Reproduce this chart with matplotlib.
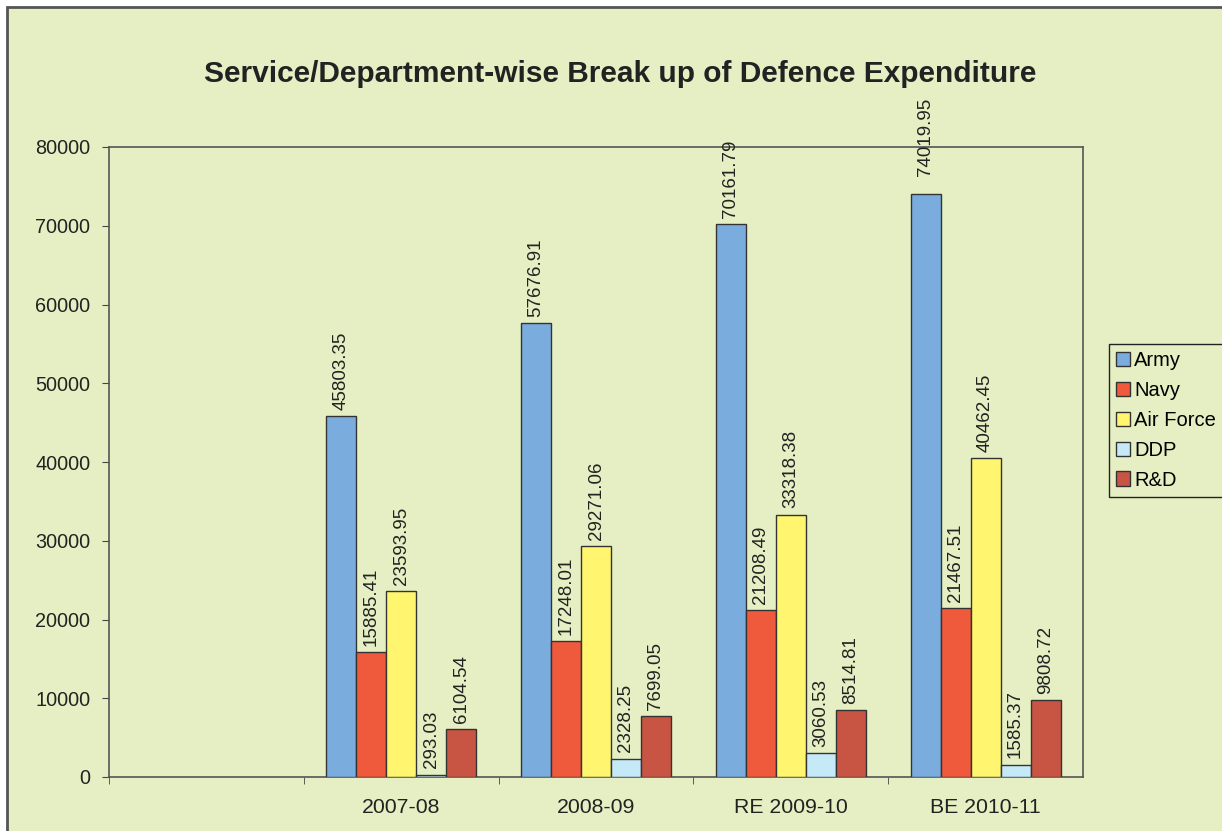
import matplotlib.pyplot as plt
import matplotlib.patches as patches
import numpy as np

plt.rcParams['font.family'] = ['Liberation Sans', 'DejaVu Sans']

categories = ['', '2007-08', '2008-09', 'RE 2009-10', 'BE 2010-11']
series = ['Army', 'Navy', 'Air Force', 'DDP', 'R&D']
army = [np.nan, 45803.35, 57676.91, 70161.79, 74019.95]
navy = [np.nan, 15885.41, 17248.01, 21208.49, 21467.51]
air_force = [np.nan, 23593.95, 29271.06, 33318.38, 40462.45]
ddp = [np.nan, 293.03, 2328.25, 3060.53, 1585.37]
rnd = [np.nan, 6104.54, 7699.05, 8514.81, 9808.72]
colors = ['#7AADDE', '#F05A3C', '#FFF56E', '#C6E9F8', '#C85543']

bg = '#E5EFC3'
fig = plt.figure(figsize=(12.22, 8.31), dpi=100, facecolor='white')
frame = patches.Rectangle((7/1222, -0.05), 1.1, 1 - 7/831 + 0.05, transform=fig.transFigure,
                          facecolor=bg, edgecolor='#555555', linewidth=2, zorder=-10)
fig.patches.append(frame)

ax = fig.add_axes([109/1222, 1 - 777/831, (1083 - 109)/1222, (777 - 147)/831])
ax.set_facecolor(bg)

x = np.arange(len(categories))
w = 30/195
for i, (name, vals) in enumerate(zip(series, [army, navy, air_force, ddp, rnd])):
    pos = x + (i - 2) * w
    ax.bar(pos, vals, w, color=colors[i], edgecolor='#333333', linewidth=1, label=name, zorder=3)
    for j, (p, v) in enumerate(zip(pos, vals)):
        if np.isnan(v):
            continue
        # excel nudged the tallest label up a bit
        off = 13 if (i == 0 and j == len(vals) - 1) else 4.5
        ax.annotate(f'{v:.2f}', (p, v), xytext=(0, off), textcoords='offset points',
                    rotation=90, ha='center', va='bottom', fontsize=13.5, color='#222222')

ax.set_xlim(-0.5, len(categories) - 0.5)
ax.set_ylim(0, 80000)
ax.set_yticks(np.arange(0, 80001, 10000))
ax.set_xticks(x)
ax.set_xticklabels(categories, fontsize=15.3)
ax.set_xticks(np.arange(-0.5, len(categories) - 1, 1), minor=True)
ax.tick_params(axis='x', which='major', length=0, pad=15)
ax.tick_params(axis='x', which='minor', length=5, color='#444444', direction='out')
ax.tick_params(axis='y', labelsize=14.3, length=5, color='#444444', pad=8.5)
for lab in ax.get_yticklabels() + ax.get_xticklabels():
    lab.set_color('#222222')
for s in ax.spines.values():
    s.set_color('#555555')
    s.set_linewidth(1.2)

fig.text(620/1222, 1 - 74/831, 'Service/Department-wise Break up of Defence Expenditure',
         ha='center', va='center', fontsize=21.5, fontweight='bold', color='#222222')

leg = fig.legend(loc='upper left', bbox_to_anchor=(1109/1222, 1 - 344/831), fontsize=14.5,
                 frameon=True, fancybox=False, edgecolor='#222222', facecolor=bg, framealpha=1,
                 handlelength=0.7, handleheight=0.7, handletextpad=0.2, labelspacing=0.54,
                 borderpad=0.35, borderaxespad=0)
leg.get_frame().set_linewidth(1)

fig.savefig('out.png', dpi=100, facecolor=fig.get_facecolor())
